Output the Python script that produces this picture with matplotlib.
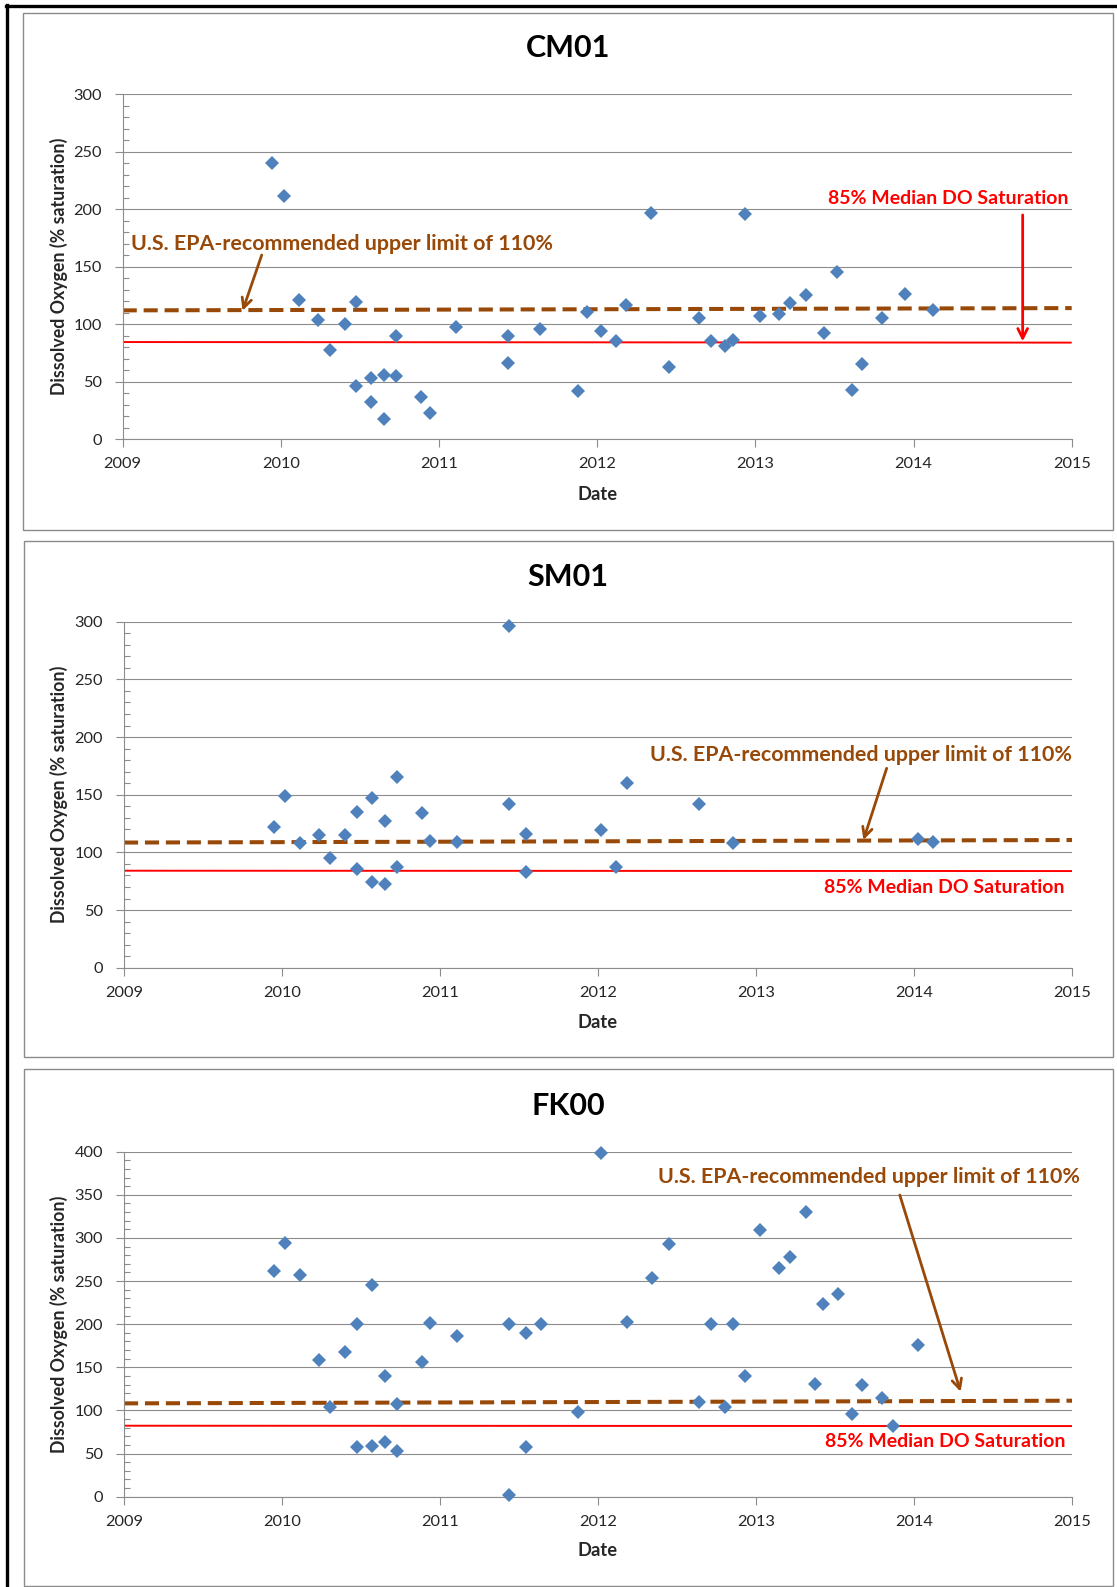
import matplotlib
matplotlib.use("Agg")
import matplotlib.pyplot as plt
from matplotlib.ticker import MultipleLocator
from matplotlib.patches import Rectangle
from matplotlib.lines import Line2D

plt.rcParams['font.family'] = ['Lato', 'DejaVu Sans']

# ---------------- data ----------------
cm01_date = [2009.945, 2010.021, 2010.116, 2010.236, 2010.309, 2010.404, 2010.478, 2010.474,
             2010.568, 2010.568, 2010.653, 2010.653, 2010.726, 2010.726, 2010.888, 2010.941,
             2011.109, 2011.436, 2011.436, 2011.640, 2011.878, 2011.935, 2012.021, 2012.116,
             2012.185, 2012.343, 2012.453, 2012.644, 2012.722, 2012.811, 2012.859, 2012.933,
             2013.027, 2013.149, 2013.217, 2013.322, 2013.432, 2013.518, 2013.611, 2013.676,
             2013.800, 2013.947, 2014.122]
cm01_do = [240, 211, 121, 104, 78, 100, 119, 46,
           53, 32, 56, 18, 55, 90, 37, 23,
           98, 90, 66, 96, 42, 111, 94, 85,
           117, 197, 63, 105, 85, 81, 86, 196,
           107, 109, 118, 125, 92, 145, 43, 65,
           105, 126, 112]

sm01_date = [2009.947, 2010.021, 2010.116, 2010.232, 2010.305, 2010.400, 2010.476, 2010.476,
             2010.568, 2010.568, 2010.653, 2010.653, 2010.728, 2010.728, 2010.886, 2010.939,
             2011.107, 2011.434, 2011.434, 2011.543, 2011.543, 2012.017, 2012.112, 2012.185,
             2012.642, 2012.853, 2014.023, 2014.122]
sm01_do = [122, 149, 108, 115, 95, 115, 135, 86,
           147, 74, 127, 73, 165, 87, 134, 110,
           109, 296, 142, 116, 83, 119, 87, 160,
           142, 108, 112, 109]

fk00_date = [2009.947, 2010.021, 2010.116, 2010.232, 2010.305, 2010.400, 2010.476, 2010.476,
             2010.568, 2010.568, 2010.653, 2010.653, 2010.728, 2010.728, 2010.886, 2010.939,
             2011.107, 2011.434, 2011.434, 2011.543, 2011.543, 2011.638, 2011.874, 2012.017,
             2012.185, 2012.339, 2012.448, 2012.642, 2012.716, 2012.806, 2012.853, 2012.928,
             2013.023, 2013.147, 2013.217, 2013.318, 2013.371, 2013.427, 2013.518, 2013.606,
             2013.669, 2013.796, 2013.869, 2014.023]
fk00_do = [262, 294, 257, 159, 104, 168, 200, 58,
           246, 59, 140, 63, 107, 53, 156, 201,
           186, 200, 2, 190, 58, 200, 98, 398,
           202, 254, 293, 110, 200, 104, 200, 140,
           309, 265, 278, 330, 131, 224, 235, 96,
           130, 115, 82, 176]

line_x = [2009, 2015]
cm01_epa = [112, 114]
cm01_median = [84.5, 84]
sm01_epa = [108.5, 110.7]
sm01_median = [84.1, 83.8]
fk00_epa = [108.2, 111.3]
fk00_median = [82.3, 81.9]

titles = ["CM01", "SM01", "FK00"]
x_ticks = [2009, 2010, 2011, 2012, 2013, 2014, 2015]
ymax_list = [300, 300, 400]

epa_text = "U.S. EPA-recommended upper limit of 110%"
median_text = "85% Median DO Saturation"

# ---------------- style ----------------
W, H = 1117, 1587
BLUE = '#4F81BD'
BROWN = '#984807'
RED = '#FF0000'
GRID = '#8C8C8C'
TXT = '#262626'

fig = plt.figure(figsize=(W / 100, H / 100), dpi=100)

def fx(px):
    return px / W

def fy(py):
    return 1 - py / H

# outer black border (left and top)
fig.add_artist(Line2D([fx(7), fx(7)], [fy(5), fy(1587)], color='black', lw=2.4))
fig.add_artist(Line2D([fx(6), fx(1115)], [fy(6), fy(6)], color='black', lw=2.4))

panels = [
    dict(box=(22.7, 12.7, 1112.7, 530), ax=(122.7, 94, 1071.7, 439.3), title_y=47.6, date_y=494,
         x=cm01_date, y=cm01_do, epa=cm01_epa, med=cm01_median,
         epa_txt=dict(x=2009.05, y=169.7, ha='left'),
         epa_arr=((2009.879, 160.1), (2009.758, 111.7)),
         med_txt=dict(x=2014.98, y=209.6, ha='right'),
         med_arr=((2014.69, 194.9), (2014.69, 85.1))),
    dict(box=(23.5, 540.7, 1112.7, 1057), ax=(124, 621.7, 1072, 967.7), title_y=576.7, date_y=1022,
         x=sm01_date, y=sm01_do, epa=sm01_epa, med=sm01_median,
         epa_txt=dict(x=2015.0, y=184.4, ha='right'),
         epa_arr=((2013.827, 172.9), (2013.68, 110.7)),
         med_txt=dict(x=2014.95, y=69.4, ha='right'),
         med_arr=None),
    dict(box=(23.5, 1068.5, 1112.7, 1586), ax=(124, 1151.7, 1072, 1496.7), title_y=1106, date_y=1550,
         x=fk00_date, y=fk00_do, epa=fk00_epa, med=fk00_median,
         epa_txt=dict(x=2015.05, y=370.3, ha='right'),
         epa_arr=((2013.91, 349.8), (2014.295, 121.7)),
         med_txt=dict(x=2014.96, y=63.8, ha='right'),
         med_arr=None),
]

for i, p in enumerate(panels):
    bx0, by0, bx1, by1 = p['box']
    fig.add_artist(Rectangle((fx(bx0), fy(by1)), fx(bx1 - bx0), (by1 - by0) / H,
                             fill=False, edgecolor='#8A8A8A', lw=1.0))
    ax0, ay0, ax1, ay1 = p['ax']
    ax = fig.add_axes([fx(ax0), fy(ay1), fx(ax1 - ax0), (ay1 - ay0) / H])
    ymax = ymax_list[i]
    ax.set_xlim(2009, 2015)
    ax.set_ylim(0, ymax)
    ax.set_xticks(x_ticks)
    ax.set_xticklabels([str(t) for t in x_ticks])
    ax.yaxis.set_major_locator(MultipleLocator(50))
    ax.yaxis.set_minor_locator(MultipleLocator(10))
    ax.grid(axis='y', which='major', color=GRID, lw=0.8, zorder=0)
    ax.set_axisbelow(True)
    for s in ['top', 'right']:
        ax.spines[s].set_visible(False)
    for s in ['left', 'bottom']:
        ax.spines[s].set_color(GRID)
        ax.spines[s].set_linewidth(0.8)
    ax.tick_params(axis='both', which='major', direction='out', length=6, width=0.8,
                   color=GRID, labelsize=11.8, labelcolor=TXT)
    ax.tick_params(axis='y', which='major', pad=9)
    ax.tick_params(axis='x', which='major', pad=7)
    ax.tick_params(axis='y', which='minor', direction='in', length=4, width=0.8, color=GRID)
    ax.tick_params(axis='x', which='minor', bottom=False)

    # reference lines
    ax.plot(line_x, p['med'], color=RED, lw=1.4, zorder=2, solid_capstyle='butt')
    ax.plot(line_x, p['epa'], color=BROWN, lw=2.9, linestyle=(0, (3.5, 1.7)), zorder=2,
            dash_capstyle='butt')

    # data
    ax.plot(p['x'], p['y'], linestyle='none', marker='D', markersize=6.8, color=BLUE,
            markeredgewidth=0, zorder=3, clip_on=False)

    # annotations
    t = p['epa_txt']
    ax.text(t['x'], t['y'], epa_text, color=BROWN, fontsize=15.4, fontweight='bold',
            ha=t['ha'], va='center', clip_on=False, zorder=4)
    (sx, sy), (ex, ey) = p['epa_arr']
    ax.annotate('', xy=(ex, ey), xytext=(sx, sy),
                arrowprops=dict(arrowstyle='->,head_length=0.7,head_width=0.35', color=BROWN,
                                lw=2.0, shrinkA=0, shrinkB=0), zorder=4)
    t = p['med_txt']
    ax.text(t['x'], t['y'], median_text, color=RED, fontsize=14, fontweight='bold',
            ha=t['ha'], va='center', clip_on=False, zorder=4)
    if p['med_arr'] is not None:
        (sx, sy), (ex, ey) = p['med_arr']
        ax.annotate('', xy=(ex, ey), xytext=(sx, sy),
                    arrowprops=dict(arrowstyle='->,head_length=0.7,head_width=0.35', color=RED,
                                    lw=2.0, shrinkA=0, shrinkB=0), zorder=4)

    # titles and labels
    fig.text(fx((bx0 + bx1) / 2), fy(p['title_y']), titles[i], fontsize=22, fontweight='bold',
             ha='center', va='center', color='black')
    fig.text(fx((ax0 + ax1) / 2), fy(p['date_y']), 'Date', fontsize=13.2, fontweight='bold',
             ha='center', va='center', color=TXT)
    fig.text(fx(59), fy((ay0 + ay1) / 2), 'Dissolved Oxygen (% saturation)', fontsize=12.8,
             fontweight='bold', rotation=90, ha='center', va='center', color=TXT)

fig.savefig('out.png', dpi=100, facecolor='white')
